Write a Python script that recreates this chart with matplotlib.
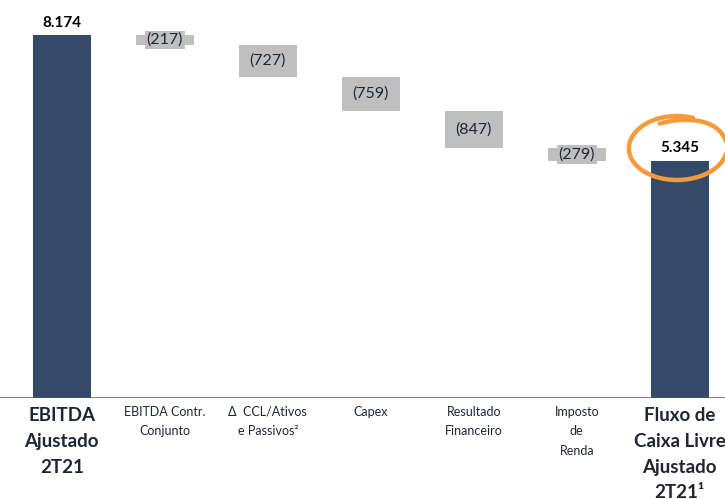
import numpy as np
import matplotlib.pyplot as plt
from matplotlib.lines import Line2D

categories = ['EBITDA\nAjustado\n2T21', 'EBITDA Contr.\nConjunto', '\u0394  CCL/Ativos\ne Passivos\u00b2',
              'Capex', 'Resultado\nFinanceiro', 'Imposto\nde\nRenda',
              'Fluxo de\nCaixa Livre\nAjustado\n2T21\u00b9']
values = [8174, -217, -727, -759, -847, -279, 5345]
labels = ['8.174', '(217)', '(727)', '(759)', '(847)', '(279)', '5.345']
is_total = [True, False, False, False, False, False, True]

navy = '#354A6B'
grey = '#BFBFBF'
txt = '#1F2633'

plt.rcParams['font.family'] = ['Lato', 'DejaVu Sans']

fig = plt.figure(figsize=(7.25, 4.99), dpi=100)
ax = fig.add_axes([0, 0.2024, 1, 0.7976])

x = np.arange(len(values))
running = 0
for i, v in enumerate(values):
    if is_total[i]:
        ax.bar(x[i], v, width=0.56, color=navy)
        ax.text(x[i], v + 120, labels[i], ha='center', va='bottom',
                fontsize=11, fontweight='bold', color='black')
        running = v
    else:
        top = running
        running = running + v
        ax.bar(x[i], -v, bottom=running, width=0.56, color=grey)
        mid = (top + running) / 2
        ax.text(x[i], mid, labels[i], ha='center', va='center', fontsize=11.5, color=txt,
                bbox=dict(boxstyle='square,pad=0.12', fc=grey, ec='none'))

ax.set_xlim(-0.60, 6.44)
ax.set_ylim(0, 8962)
ax.axhline(0, color='#555555', lw=1.8)
for s in ax.spines.values():
    s.set_visible(False)
ax.set_xticks([])
ax.set_yticks([])

for i, c in enumerate(categories):
    if is_total[i]:
        ax.text(x[i], -210, c, ha='center', va='top', fontsize=13.5, fontweight='bold',
                color=txt, linespacing=1.62)
    else:
        ax.text(x[i], -180, c, ha='center', va='top', fontsize=9, color=txt,
                linespacing=1.75)

# hand-drawn orange circle around the final value
t = np.linspace(np.radians(70), np.radians(70 + 400), 200)
cx, cy = 677, 148
rx = 47 + 4 * (t - t[0]) / (t[-1] - t[0])
ry = 32 - 6 * np.clip((t - np.radians(400)) / np.radians(70), 0, 1)
px = cx + rx * np.cos(t)
py = cy - ry * np.sin(t)
fig.add_artist(Line2D(px / 725, 1 - py / 499, transform=fig.transFigure,
                      color='#F39A3C', lw=3.2, solid_capstyle='round'))

fig.savefig('out.png', dpi=100)
